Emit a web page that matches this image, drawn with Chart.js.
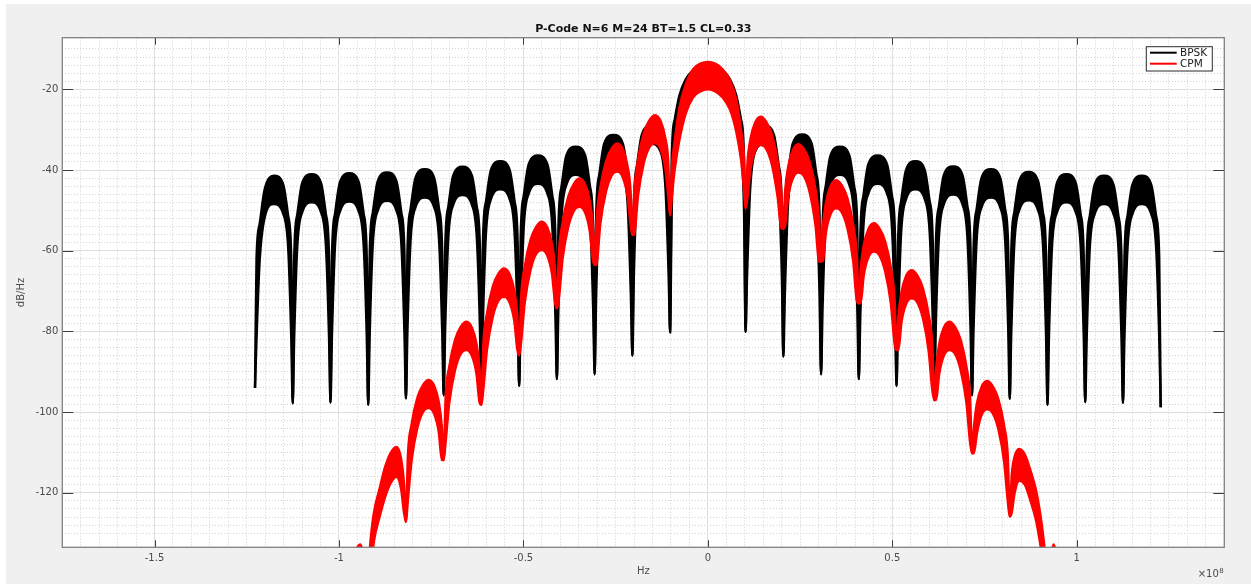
<!DOCTYPE html>
<html>
<head>
<meta charset="utf-8">
<title>P-Code N=6 M=24 BT=1.5 CL=0.33</title>
<script src="https://cdn.jsdelivr.net/npm/chart.js@4.4.1/dist/chart.umd.min.js"></script>
<style>
  html, body { margin: 0; padding: 0; background: #ffffff; }
  canvas { display: block; }
</style>
</head>
<body>
<canvas id="psd" width="1251" height="584"></canvas>
<script>
// ---- Power spectral density, P-code (10.23 MHz chips), BPSK vs CPM ----
// Frequencies in MHz; each series is drawn as the top and bottom edge of its noisy band.

const seriesNames = ['BPSK', 'CPM'];

const bpskFreqMHz = [
  -122.76, -122.35, -121.53, -120.20, -117.64, -115.09, -113.76, -112.94,
  -112.53, -112.12, -111.30, -109.97, -107.41, -104.86, -103.53, -102.71,
  -102.30, -101.89, -101.07, -99.74, -97.18, -94.63, -93.30, -92.48,
  -92.07, -91.66, -90.84, -89.51, -86.95, -84.40, -83.07, -82.25,
  -81.84, -81.43, -80.61, -79.28, -76.72, -74.17, -72.84, -72.02,
  -71.61, -71.20, -70.38, -69.05, -66.49, -63.94, -62.61, -61.79,
  -61.38, -60.97, -60.15, -58.82, -56.26, -53.71, -52.38, -51.56,
  -51.15, -50.74, -49.92, -48.59, -46.03, -43.48, -42.15, -41.33,
  -40.92, -40.51, -39.69, -38.36, -35.80, -33.25, -31.92, -31.10,
  -30.69, -30.28, -29.46, -28.13, -25.57, -23.02, -21.69, -20.87,
  -20.46, -20.05, -19.23, -17.90, -15.34, -12.79, -11.46, -10.64,
  -10.23, -9.80, -9.00, -7.70, -6.00, -4.00, -2.00, 0, 2.00, 4.00, 6.00, 7.70, 9.00, 9.80,
  10.23, 10.64, 11.46, 12.79, 15.35, 17.90, 19.23, 20.05,
  20.46, 20.87, 21.69, 23.02, 25.58, 28.13, 29.46, 30.28,
  30.69, 31.10, 31.92, 33.25, 35.81, 38.36, 39.69, 40.51,
  40.92, 41.33, 42.15, 43.48, 46.04, 48.59, 49.92, 50.74,
  51.15, 51.56, 52.38, 53.71, 56.27, 58.82, 60.15, 60.97,
  61.38, 61.79, 62.61, 63.94, 66.50, 69.05, 70.38, 71.20,
  71.61, 72.02, 72.84, 74.17, 76.73, 79.28, 80.61, 81.43,
  81.84, 82.25, 83.07, 84.40, 86.96, 89.51, 90.84, 91.66,
  92.07, 92.48, 93.30, 94.63, 97.19, 99.74, 101.07, 101.89,
  102.30, 102.71, 103.53, 104.86, 107.42, 109.97, 111.30, 112.12,
  112.53, 112.94, 113.76, 115.09, 117.65, 120.20, 121.53, 122.35,
  122.76
];

const bpskUpperDb = [
  -94.0, -62.0, -53.5, -45.0, -41.4, -43.6, -51.4, -61.4,
  -97.8, -61.0, -51.0, -43.2, -41.0, -43.2, -51.0, -61.0,
  -97.6, -60.8, -50.8, -43.0, -40.8, -43.0, -50.8, -60.8,
  -98.2, -60.6, -50.6, -42.8, -40.6, -42.8, -50.6, -60.6,
  -96.6, -59.8, -49.8, -42.0, -39.8, -42.0, -49.8, -59.8,
  -95.8, -59.2, -49.2, -41.4, -39.2, -41.4, -49.2, -59.2,
  -97.0, -57.8, -47.8, -40.0, -37.8, -40.0, -47.8, -57.8,
  -93.5, -56.4, -46.4, -38.6, -36.4, -38.6, -46.4, -56.4,
  -91.8, -54.2, -44.2, -36.4, -34.2, -36.4, -44.2, -54.2,
  -90.6, -51.3, -41.3, -33.5, -31.3, -33.5, -41.3, -51.3,
  -86.0, -49.0, -39.0, -31.2, -29.0, -31.2, -39.0, -49.0,
  -80.2, -37.0, -27.5, -21.5, -17.5, -15.3, -14.5, -14.3, -14.5, -15.3, -17.5, -21.5, -27.5, -37.0,
  -80.1, -49.0, -39.0, -31.2, -29.0, -31.2, -39.0, -49.0,
  -86.2, -51.2, -41.2, -33.4, -31.2, -33.4, -41.2, -51.2,
  -90.6, -54.2, -44.2, -36.4, -34.2, -36.4, -44.2, -54.2,
  -91.8, -56.4, -46.4, -38.6, -36.4, -38.6, -46.4, -56.4,
  -93.5, -57.8, -47.8, -40.0, -37.8, -40.0, -47.8, -57.8,
  -97.0, -59.1, -49.1, -41.3, -39.1, -41.3, -49.1, -59.1,
  -95.8, -59.8, -49.8, -42.0, -39.8, -42.0, -49.8, -59.8,
  -96.7, -60.5, -50.5, -42.7, -40.5, -42.7, -50.5, -60.5,
  -98.2, -61.0, -51.0, -43.2, -41.0, -43.2, -51.0, -61.0,
  -97.5, -61.4, -51.4, -43.6, -41.4, -43.6, -51.4, -61.4,
  -97.7, -61.4, -51.4, -43.6, -41.4, -43.6, -51.4, -61.4,
  -98.8
];

const bpskLowerDb = [
  -94.0, -82.0, -63.0, -52.0, -48.4, -50.9, -59.4, -81.4,
  -97.8, -81.0, -59.0, -50.5, -48.0, -50.5, -59.0, -81.0,
  -97.6, -80.8, -58.8, -50.3, -47.8, -50.3, -58.8, -80.8,
  -98.2, -80.6, -58.6, -50.1, -47.6, -50.1, -58.6, -80.6,
  -96.6, -79.8, -57.8, -49.3, -46.8, -49.3, -57.8, -79.8,
  -95.8, -79.2, -57.2, -48.7, -46.2, -48.7, -57.2, -79.2,
  -97.0, -77.8, -55.8, -47.3, -44.8, -47.3, -55.8, -77.8,
  -93.5, -76.4, -54.4, -45.9, -43.4, -45.9, -54.4, -76.4,
  -91.8, -74.2, -52.2, -43.7, -41.2, -43.7, -52.2, -74.2,
  -90.6, -71.3, -49.3, -40.8, -38.3, -40.8, -49.3, -71.3,
  -86.0, -66.0, -45.0, -35.5, -33.5, -35.5, -45.0, -66.0,
  -80.2, -50.0, -35.0, -27.0, -22.0, -19.3, -18.8, -18.5, -18.8, -19.3, -22.0, -27.0, -35.0, -50.0,
  -80.1, -66.0, -45.0, -35.5, -33.5, -35.5, -45.0, -66.0,
  -86.2, -71.2, -49.2, -40.7, -38.2, -40.7, -49.2, -71.2,
  -90.6, -74.2, -52.2, -43.7, -41.2, -43.7, -52.2, -74.2,
  -91.8, -76.4, -54.4, -45.9, -43.4, -45.9, -54.4, -76.4,
  -93.5, -77.8, -55.8, -47.3, -44.8, -47.3, -55.8, -77.8,
  -97.0, -79.1, -57.1, -48.6, -46.1, -48.6, -57.1, -79.1,
  -95.8, -79.8, -57.8, -49.3, -46.8, -49.3, -57.8, -79.8,
  -96.7, -80.5, -58.5, -50.0, -47.5, -50.0, -58.5, -80.5,
  -98.2, -81.0, -59.0, -50.5, -48.0, -50.5, -59.0, -81.0,
  -97.5, -81.4, -59.4, -50.9, -48.4, -50.9, -59.4, -81.4,
  -97.7, -81.4, -59.4, -50.9, -48.4, -50.9, -59.4, -81.4,
  -98.8
];

const cpmFreqMHz = [
  -99.00, -94.20, -93.00,
  -92.07, -91.56, -90.54, -89.00, -87.47, -85.93, -84.40, -83.17, -82.35,
  -81.84, -81.33, -80.31, -78.77, -77.24, -75.70, -74.17, -72.94, -72.12,
  -71.61, -71.10, -70.08, -68.54, -67.01, -65.47, -63.94, -62.71, -61.89,
  -61.38, -60.87, -59.85, -58.31, -56.78, -55.24, -53.71, -52.48, -51.66,
  -51.15, -50.64, -49.62, -48.08, -46.55, -45.01, -43.48, -42.25, -41.43,
  -40.92, -40.41, -39.39, -37.85, -36.32, -34.78, -33.25, -32.02, -31.20,
  -30.69, -30.18, -29.16, -27.62, -26.09, -24.55, -23.02, -21.79, -20.97,
  -20.46, -19.95, -18.93, -17.39, -15.86, -14.32, -12.79, -11.56, -10.74,
  -10.23, -9.80, -9.00, -7.70, -6.00, -4.00, -2.00, 0, 2.00, 4.00, 6.00, 7.70, 9.00, 9.80,
  10.23, 10.74, 11.56, 12.79, 14.32, 15.86, 17.39, 18.93, 19.95,
  20.46, 20.97, 21.79, 23.02, 24.55, 26.09, 27.62, 29.16, 30.18,
  30.69, 31.20, 32.02, 33.25, 34.78, 36.32, 37.85, 39.39, 40.41,
  40.92, 41.43, 42.25, 43.48, 45.01, 46.55, 48.08, 49.62, 50.64,
  51.15, 51.66, 52.48, 53.71, 55.24, 56.78, 58.31, 59.85, 60.87,
  61.38, 61.89, 62.71, 63.94, 65.47, 67.01, 68.54, 70.08, 71.10,
  71.61, 72.12, 72.94, 74.17, 75.70, 77.24, 78.77, 80.31, 81.33,
  81.84, 82.35, 83.17, 84.40, 85.93, 87.47, 89.00, 90.54, 91.56,
  92.07, 93.00, 93.70, 95.00, 98.00
];

const cpmUpperDb = [
  -145.0, -132.8, -136.5,
  -140.0, -133.0, -125.0, -119.0, -113.5, -110.0, -108.6, -111.5, -118.0,
  -127.2, -111.0, -103.0, -96.5, -93.3, -92.0, -93.5, -97.5, -103.5,
  -111.9, -96.6, -88.6, -82.1, -78.9, -77.6, -79.1, -83.1, -89.1,
  -98.2, -83.4, -75.4, -68.9, -65.7, -64.4, -65.9, -69.9, -75.9,
  -85.9, -71.8, -63.8, -57.3, -54.1, -52.8, -54.3, -58.3, -64.3,
  -74.3, -61.1, -53.1, -46.6, -43.4, -42.1, -43.6, -47.6, -53.6,
  -63.5, -52.4, -44.4, -37.9, -34.7, -33.4, -34.9, -38.9, -44.9,
  -56.1, -45.4, -37.4, -30.9, -27.7, -26.4, -27.9, -31.9, -37.9,
  -51.2, -40.0, -33.0, -24.5, -18.8, -15.0, -13.6, -13.2, -13.6, -15.0, -17.8, -22.5, -30.0, -37.0,
  -49.5, -38.3, -32.3, -28.3, -26.8, -28.1, -31.3, -37.8, -45.8,
  -54.5, -45.1, -39.1, -35.1, -33.6, -34.9, -38.1, -44.6, -52.6,
  -62.7, -54.0, -48.0, -44.0, -42.5, -43.8, -47.0, -53.5, -61.5,
  -73.0, -64.7, -58.7, -54.7, -53.2, -54.5, -57.7, -64.2, -72.2,
  -84.6, -76.3, -70.3, -66.3, -64.8, -66.1, -69.3, -75.8, -83.8,
  -97.0, -89.1, -83.1, -79.1, -77.6, -78.9, -82.1, -88.6, -96.6,
  -110.2, -103.8, -97.8, -93.8, -92.3, -93.6, -96.8, -103.3, -111.3,
  -125.9, -116.0, -111.0, -109.1, -110.5, -114.5, -119.5, -128.0, -136.0,
  -140.0, -136.0, -132.8, -137.0, -145.0
];

const cpmLowerDb = [
  -148.0, -138.5, -140.0,
  -140.0, -140.0, -132.0, -126.0, -121.0, -117.5, -116.0, -119.0, -125.0,
  -127.2, -122.0, -112.0, -104.0, -100.0, -99.0, -100.5, -105.0, -111.9,
  -111.9, -107.6, -97.6, -89.6, -85.6, -84.6, -86.1, -90.6, -97.6,
  -98.2, -94.4, -84.4, -76.4, -72.4, -71.4, -72.9, -77.4, -84.4,
  -85.9, -82.8, -72.8, -64.8, -60.8, -59.8, -61.3, -65.8, -72.8,
  -74.3, -72.1, -62.1, -54.1, -50.1, -49.1, -50.6, -55.1, -62.1,
  -63.5, -63.4, -53.4, -45.4, -41.4, -40.4, -41.9, -46.4, -53.4,
  -56.1, -56.0, -46.4, -38.4, -34.4, -33.4, -34.9, -39.4, -46.4,
  -51.2, -47.0, -40.0, -32.5, -26.0, -22.0, -20.5, -20.0, -20.5, -22.0, -25.0, -30.5, -37.5, -45.0,
  -49.5, -46.8, -39.8, -35.3, -33.8, -34.8, -38.8, -46.8, -54.5,
  -54.5, -53.6, -46.6, -42.1, -40.6, -41.6, -45.6, -53.6, -62.7,
  -62.7, -62.5, -55.5, -51.0, -49.5, -50.5, -54.5, -62.5, -72.5,
  -73.0, -73.0, -66.2, -61.7, -60.2, -61.2, -65.2, -73.2, -83.2,
  -84.6, -84.6, -77.8, -73.3, -71.8, -72.8, -76.8, -84.8, -94.8,
  -97.0, -97.0, -90.6, -86.1, -84.6, -85.6, -89.6, -97.6, -107.6,
  -110.2, -110.2, -105.3, -100.8, -99.3, -100.3, -104.3, -112.3, -122.3,
  -125.9, -125.0, -120.0, -117.0, -118.0, -122.0, -127.0, -135.0, -140.0,
  -140.0, -140.0, -138.5, -141.0, -148.0
];

// Major tick positions (MHz on x, dB/Hz on y); x labels are shown in units of 1e8 Hz.
const xTickValues = [-150, -100, -50, 0, 50, 100];
const yTickValues = [-120, -100, -80, -60, -40, -20];

// ---- axis limits and styling ----
const X_MIN = -175, X_MAX = 140;
const Y_MIN = -133.5, Y_MAX = -7.2;
const FONT = '"DejaVu Sans", "Liberation Sans", Arial, sans-serif';
const TEXT_GRAY = '#4a4a4a';
const GRID_MAJOR = '#dedede';
const GRID_MINOR = '#d2d2d2';
const COLORS = { BPSK: '#000000', CPM: '#ff0000' };

function band(freq, values, extra) {
  return Object.assign({
    data: freq.map((f, i) => ({ x: f, y: values[i] })),
    pointRadius: 0,
    pointHoverRadius: 0,
    borderWidth: 2.4,
    cubicInterpolationMode: 'monotone',
    spanGaps: false
  }, extra);
}

// Figure background (grey) with a white plotting area
const figureBackground = {
  id: 'figureBackground',
  beforeDraw(chart) {
    const { ctx, width, height, chartArea: a } = chart;
    ctx.save();
    ctx.fillStyle = '#ffffff';
    ctx.fillRect(0, 0, width, height);
    ctx.fillStyle = '#f0f0f0';
    ctx.fillRect(6, 4, width - 6, height - 4);
    ctx.fillStyle = '#ffffff';
    ctx.fillRect(a.left, a.top, a.right - a.left, a.bottom - a.top);
    ctx.restore();
  }
};

// Axes box with inward tick marks on all four sides
const axesFrame = {
  id: 'axesFrame',
  afterDatasetsDraw(chart) {
    const { ctx, chartArea: a, scales } = chart;
    ctx.save();
    ctx.strokeStyle = '#3c3c3c';
    ctx.lineWidth = 1;
    ctx.beginPath();
    xTickValues.forEach(v => {
      const px = Math.round(scales.x.getPixelForValue(v)) + 0.5;
      ctx.moveTo(px, a.bottom); ctx.lineTo(px, a.bottom - 7);
      ctx.moveTo(px, a.top); ctx.lineTo(px, a.top + 7);
    });
    yTickValues.forEach(v => {
      const py = Math.round(scales.y.getPixelForValue(v)) + 0.5;
      ctx.moveTo(a.left, py); ctx.lineTo(a.left + 11, py);
      ctx.moveTo(a.right, py); ctx.lineTo(a.right - 11, py);
    });
    ctx.stroke();
    ctx.strokeStyle = '#808080';
    ctx.lineWidth = 1.3;
    ctx.strokeRect(a.left, a.top, a.right - a.left, a.bottom - a.top);
    ctx.restore();
  }
};

// Boxed legend in the upper-right corner of the axes
const boxedLegend = {
  id: 'boxedLegend',
  afterDraw(chart) {
    const { ctx, chartArea: a } = chart;
    const entries = chart.data.datasets.filter(d => d.label);
    const w = 66, rowH = 11;
    const h = entries.length * rowH + 2.3;
    const left = a.right - 12 - w, top = a.top + 9;
    ctx.save();
    ctx.fillStyle = '#ffffff';
    ctx.fillRect(left, top, w, h);
    ctx.strokeStyle = '#2b2b2b';
    ctx.lineWidth = 1;
    ctx.strokeRect(left, top, w, h);
    ctx.font = '10.5px ' + FONT;
    ctx.textBaseline = 'middle';
    ctx.textAlign = 'left';
    entries.forEach((d, i) => {
      const y = top + 6 + i * rowH;
      ctx.strokeStyle = d.borderColor;
      ctx.lineWidth = 2;
      ctx.beginPath();
      ctx.moveTo(left + 3.7, y);
      ctx.lineTo(left + 30.4, y);
      ctx.stroke();
      ctx.fillStyle = '#1a1a1a';
      ctx.fillText(d.label, left + 33.7, y + 0.5);
    });
    ctx.restore();
  }
};

// Exponent label of the frequency axis
const xExponent = {
  id: 'xExponent',
  afterDraw(chart) {
    const { ctx, chartArea: a } = chart;
    ctx.save();
    ctx.fillStyle = TEXT_GRAY;
    ctx.textBaseline = 'alphabetic';
    ctx.textAlign = 'left';
    ctx.font = '7px ' + FONT;
    const supW = ctx.measureText('8').width;
    ctx.font = '10px ' + FONT;
    const baseW = ctx.measureText('\u00d710').width;
    const x0 = a.right - 1 - supW - baseW;
    ctx.fillText('\u00d710', x0, 577);
    ctx.font = '7px ' + FONT;
    ctx.fillText('8', x0 + baseW + 0.5, 572.5);
    ctx.restore();
  }
};

const tickFont = { family: FONT, size: 10 };

new Chart(document.getElementById('psd'), {
  type: 'line',
  data: {
    datasets: [
      band(bpskFreqMHz, bpskUpperDb, { label: seriesNames[0], borderColor: COLORS.BPSK, backgroundColor: COLORS.BPSK, fill: false, order: 2 }),
      band(bpskFreqMHz, bpskLowerDb, { label: '', borderColor: COLORS.BPSK, backgroundColor: COLORS.BPSK, fill: '-1', order: 2 }),
      band(cpmFreqMHz, cpmUpperDb, { label: seriesNames[1], borderColor: COLORS.CPM, backgroundColor: COLORS.CPM, fill: false, order: 1 }),
      band(cpmFreqMHz, cpmLowerDb, { label: '', borderColor: COLORS.CPM, backgroundColor: COLORS.CPM, fill: '-1', order: 1 })
    ]
  },
  options: {
    responsive: false,
    animation: false,
    devicePixelRatio: 1,
    events: [],
    layout: { padding: { left: 0, right: 26.7, top: 0, bottom: 0 } },
    plugins: {
      legend: { display: false },
      tooltip: { enabled: false },
      title: {
        display: true,
        text: 'P-Code N=6 M=24 BT=1.5 CL=0.33',
        fullSize: false,
        color: '#111111',
        font: { family: FONT, size: 11, weight: 'bold' },
        padding: { top: 22.4, bottom: 2.1 }
      }
    },
    scales: {
      xMinor: {
        type: 'linear', position: 'bottom', min: X_MIN, max: X_MAX,
        ticks: { display: false, stepSize: 5 },
        grid: { color: GRID_MINOR, lineWidth: 1, drawTicks: false, z: -2 },
        border: { display: false, dash: [1, 2] },
        afterFit: s => { s.height = 0; }
      },
      yMinor: {
        type: 'linear', position: 'left', min: Y_MIN, max: Y_MAX,
        ticks: { display: false, stepSize: 2 },
        grid: { color: GRID_MINOR, lineWidth: 1, drawTicks: false, z: -2 },
        border: { display: false, dash: [1, 2] },
        afterFit: s => { s.width = 0; }
      },
      x: {
        type: 'linear', position: 'bottom', min: X_MIN, max: X_MAX,
        afterBuildTicks: s => { s.ticks = xTickValues.map(v => ({ value: v })); },
        afterFit: s => { s.height = 36.7; },
        ticks: {
          autoSkip: false, maxRotation: 0, padding: 5, color: TEXT_GRAY, font: tickFont,
          callback: v => String(v / 100)
        },
        grid: { color: GRID_MAJOR, lineWidth: 1, drawTicks: false },
        border: { display: false },
        title: { display: true, text: 'Hz', color: TEXT_GRAY, font: tickFont, padding: { top: 0, bottom: 6.3 } }
      },
      y: {
        type: 'linear', position: 'left', min: Y_MIN, max: Y_MAX,
        afterBuildTicks: s => { s.ticks = yTickValues.map(v => ({ value: v })); },
        afterFit: s => { s.width = 62.3; },
        ticks: { autoSkip: false, padding: 4, color: TEXT_GRAY, font: tickFont },
        grid: { color: GRID_MAJOR, lineWidth: 1, drawTicks: false },
        border: { display: false },
        title: { display: true, text: 'dB/Hz', color: TEXT_GRAY, font: tickFont, padding: { top: 15.7, bottom: 0 } }
      }
    }
  },
  plugins: [figureBackground, axesFrame, boxedLegend, xExponent]
});
</script>
</body>
</html>
